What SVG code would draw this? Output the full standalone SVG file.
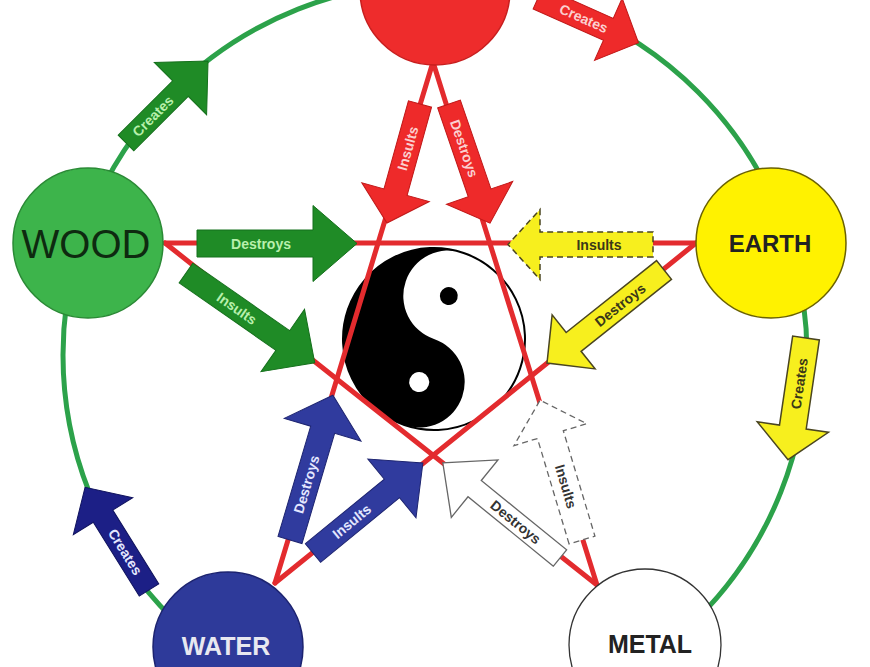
<svg xmlns="http://www.w3.org/2000/svg" width="870" height="667" viewBox="0 0 870 667">
<style>
.lbl{font-family:"Liberation Sans",Arial,sans-serif;font-size:14px;font-weight:bold;text-anchor:middle;dominant-baseline:central}
.node{font-family:"Liberation Sans",Arial,sans-serif;text-anchor:middle}
.grn{fill:#1f8b26;stroke:#15701c;stroke-width:1}
.red{fill:#ee2a2a;stroke:#c01818;stroke-width:1}
.yel{fill:#f7ef1e;stroke:#4a4520;stroke-width:1.5}
.blu{fill:#303b9e;stroke:#1d2470;stroke-width:1}
.nav{fill:#1c1f86;stroke:#10135e;stroke-width:1}
.wht{fill:#fff;stroke:#666;stroke-width:1.3}
.dash{stroke-dasharray:6 4}
.tg{fill:#b8f0ac}.tr{fill:#fbd0d0}.ty{fill:#3a3818}.tb{fill:#e4e7ff}.tw{fill:#333}
.pent{stroke:#e32b2e;stroke-width:5;stroke-linecap:round}
</style>
<rect width="870" height="667" fill="#fff"/>
<g id="connectors">
  <circle cx="435" cy="355" r="372" fill="none" stroke="#2ca24a" stroke-width="5"/>
  <g id="yinyang" transform="translate(434,339) rotate(19)">
    <circle r="91" fill="#fff" stroke="#000" stroke-width="2"/>
    <path d="M0,-91 A91,91 0 0 0 0,91 A45.5,45.5 0 0 0 0,0 A45.5,45.5 0 0 1 0,-91 Z" fill="#000"/>
    <circle cx="0" cy="-45.5" r="9" fill="#000"/>
    <circle cx="0" cy="45.5" r="10" fill="#fff"/>
  </g>
  <g class="pent">
    <line x1="165" y1="243" x2="696" y2="243"/>
    <line x1="433" y1="62" x2="275" y2="583"/>
    <line x1="433" y1="62" x2="597" y2="585"/>
    <line x1="165" y1="243" x2="597" y2="585"/>
    <line x1="696" y1="243" x2="275" y2="583"/>
  </g>
  <!-- Creates arrows -->
  <g transform="translate(126,143) rotate(-45)">
    <polygon class="grn" points="0,-11 77,-11 77,-37 116,0 77,37 77,11 0,11"/>
    <text class="lbl tg" x="38" y="0">Creates</text>
  </g>
  <g transform="translate(538,-2) rotate(24)">
    <polygon class="red" points="0,-12 77,-12 77,-34 110,0 77,34 77,12 0,12"/>
    <text class="lbl tr" x="50" y="0" font-size="13">Creates</text>
  </g>
  <g transform="translate(806,338) rotate(98.4)">
    <polygon class="yel" points="0,-13.5 90,-13.5 90,-36 123,0 90,36 90,13.5 0,13.5"/>
    <text class="lbl ty" x="46" y="0" transform="rotate(180 46 0)">Creates</text>
  </g>
  <g transform="translate(149,590) rotate(-121.9)">
    <polygon class="nav" points="0,-11.5 87,-11.5 87,-35 121,0 87,35 87,11.5 0,11.5"/>
    <text class="lbl tb" x="45" y="0" transform="rotate(180 45 0)">Creates</text>
  </g>
  <!-- Fire arrows -->
  <g transform="translate(420,104) rotate(105.5)">
    <polygon class="red" points="0,-12 91.5,-12 91.5,-35 123.5,0 91.5,35 91.5,12 0,12"/>
    <text class="lbl tr" x="46" y="0" transform="rotate(180 46 0)">Insults</text>
  </g>
  <g transform="translate(449,104) rotate(71)">
    <polygon class="red" points="0,-12 94,-12 94,-35 126,0 94,35 94,12 0,12"/>
    <text class="lbl tr" x="47" y="0">Destroys</text>
  </g>
  <!-- Wood arrows -->
  <g transform="translate(197,243.5)">
    <polygon class="grn" points="0,-13.5 116,-13.5 116,-38 160,0 116,38 116,13.5 0,13.5"/>
    <text class="lbl tg" x="64" y="0">Destroys</text>
  </g>
  <g transform="translate(186,273) rotate(34.9)">
    <polygon class="grn" points="0,-12 118,-12 118,-38 157,0 118,38 118,12 0,12"/>
    <text class="lbl tg" x="62" y="0">Insults</text>
  </g>
  <!-- Earth arrows -->
  <g transform="translate(653,244.5) rotate(180)">
    <polygon class="yel dash" points="0,-12.5 113,-12.5 113,-35 145,0 113,35 113,12.5 0,12.5"/>
    <text class="lbl ty" x="54" y="0" transform="rotate(180 54 0)">Insults</text>
  </g>
  <g transform="translate(664,270) rotate(141.5)">
    <polygon class="yel" points="0,-12 115.5,-12 115.5,-34.5 149.5,0 115.5,34.5 115.5,12 0,12"/>
    <text class="lbl ty" x="56" y="0" transform="rotate(180 56 0)">Destroys</text>
  </g>
  <!-- Water arrows -->
  <g transform="translate(290,540) rotate(-73.5)">
    <polygon class="blu" points="0,-12.5 115,-12.5 115,-40 151,0 115,40 115,12.5 0,12.5"/>
    <text class="lbl tb" x="58" y="0">Destroys</text>
  </g>
  <g transform="translate(313,553) rotate(-39.3)">
    <polygon class="blu" points="0,-12 102,-12 102,-38 142,0 102,38 102,12 0,12"/>
    <text class="lbl tb" x="50" y="0">Insults</text>
  </g>
  <!-- Metal arrows -->
  <g transform="translate(560,558) rotate(-140.9)">
    <polygon class="wht" points="0,-10.5 110,-10.5 110,-37 151,0 110,37 110,10.5 0,10.5"/>
    <text class="lbl tw" x="57" y="0" transform="rotate(180 57 0)">Destroys</text>
  </g>
  <g transform="translate(582,540) rotate(-106.7)">
    <polygon class="wht dash" points="0,-13.5 110,-13.5 110,-38 146,0 110,38 110,13.5 0,13.5"/>
    <text class="lbl tw" x="56" y="0" transform="rotate(180 56 0)">Insults</text>
  </g>
</g>
<g id="fire">
  <circle cx="435" cy="-10" r="75" fill="#ee2c2c" stroke="#c81e1e" stroke-width="1.5"/>
</g>
<g id="wood">
  <circle cx="88" cy="243" r="75" fill="#3db44b" stroke="#2a8a35" stroke-width="1.5"/>
  <text class="node" x="86" y="258" font-size="40" fill="#0e2a10">WOOD</text>
</g>
<g id="earth">
  <circle cx="771" cy="243" r="75" fill="#fff200" stroke="#6b6200" stroke-width="1.5"/>
  <text class="node" x="770" y="252" font-size="24" font-weight="bold" fill="#222">EARTH</text>
</g>
<g id="water">
  <circle cx="228" cy="647" r="75" fill="#2e3a9a" stroke="#1c2370" stroke-width="1.5"/>
  <text class="node" x="226" y="655" font-size="25" font-weight="bold" fill="#e8e8f0">WATER</text>
</g>
<g id="metal">
  <circle cx="645" cy="645" r="76" fill="#fff" stroke="#333" stroke-width="1.3"/>
  <text class="node" x="650" y="653" font-size="25" font-weight="bold" fill="#222">METAL</text>
</g>
</svg>
